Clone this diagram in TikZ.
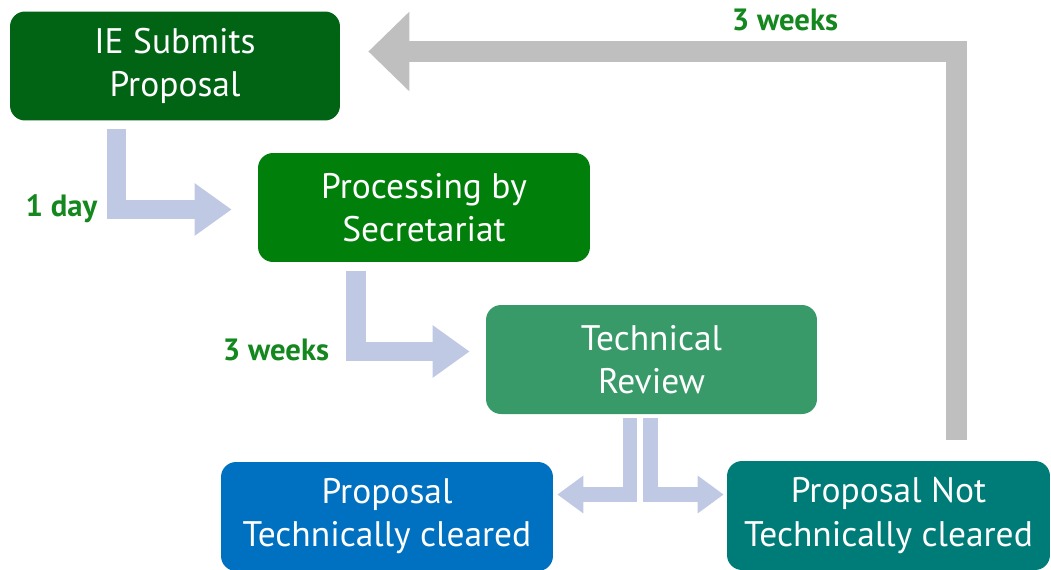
\documentclass[tikz,border=0pt]{standalone}
\usepackage{fontspec}
\setmainfont{PT Sans}
\usetikzlibrary{arrows.meta}
\definecolor{submitgreen}{RGB}{0,100,20}
\definecolor{secgreen}{RGB}{0,128,10}
\definecolor{reviewgreen}{RGB}{56,154,104}
\definecolor{clearblue}{RGB}{0,112,192}
\definecolor{notteal}{RGB}{0,124,120}
\definecolor{flowblue}{RGB}{192,201,228}
\definecolor{backgray}{RGB}{191,191,191}
\definecolor{labelgreen}{RGB}{20,135,30}
\begin{document}
\begin{tikzpicture}[x=0.02cm,y=-0.02cm,
        stage/.style={rounded corners=0.3cm,text=white,align=center,inner sep=0pt,
            minimum height=2.18cm,font=\fontsize{20.2}{24.5}\selectfont},
        flow/.style={draw=flowblue,line width=0.39cm,
            -{Triangle[length=0.74cm,width=1cm]}},
        split/.style={draw=flowblue,line width=0.29cm,
            -{Triangle[length=0.52cm,width=0.72cm]}},
        back/.style={draw=backgray,line width=0.42cm,
            -{Triangle[length=0.82cm,width=1.54cm]}},
        lbl/.style={text=labelgreen,font=\bfseries\fontsize{17.5}{20}\selectfont}]
                \useasboundingbox (0,0) rectangle (1051,569);
                \node[stage,fill=submitgreen,minimum width=6.6cm] (submit) at (175,66) {IE Submits\\Proposal};
                \node[stage,fill=secgreen,minimum width=6.64cm] (secr) at (424,207.5) {Processing by\\Secretariat};
                \node[stage,fill=reviewgreen,minimum width=6.62cm] (review) at (651.5,359.5) {Technical\\Review};
                \node[stage,fill=clearblue,minimum width=6.64cm] (cleared) at (387,516.5) {Proposal\\Technically cleared};
                \node[stage,fill=notteal,minimum width=6.46cm] (notcleared) at (888.5,515.5) {Proposal Not\\Technically cleared};
                \draw[flow] ([xshift=2.14cm,yshift=-0.16cm]submit.south west) |- ([xshift=-0.52cm,yshift=-0.04cm]secr.west);
                \draw[flow] ([xshift=1.97cm,yshift=-0.18cm]secr.south west) |- ([xshift=-0.32cm,yshift=0.16cm]review.west);
                \draw[split] ([xshift=-0.43cm,yshift=-0.08cm]review.south) |- ([xshift=0.08cm,yshift=0.44cm]cleared.east);
                \draw[split] ([xshift=-0.02cm,yshift=-0.08cm]review.south) |- ([xshift=-0.06cm,yshift=0.42cm]notcleared.west);
                \draw[back] ([xshift=4.59cm,yshift=0.42cm]notcleared.north west) |- ([xshift=0.56cm,yshift=0.29cm]submit.east);
                \node[lbl] (day) at (61.5,209) {1 day};
                \node[lbl] (weeks) at (276,350) {3 weeks};
                \node[lbl] (backweeks) at (785,20) {3 weeks};
\end{tikzpicture}
\end{document}
